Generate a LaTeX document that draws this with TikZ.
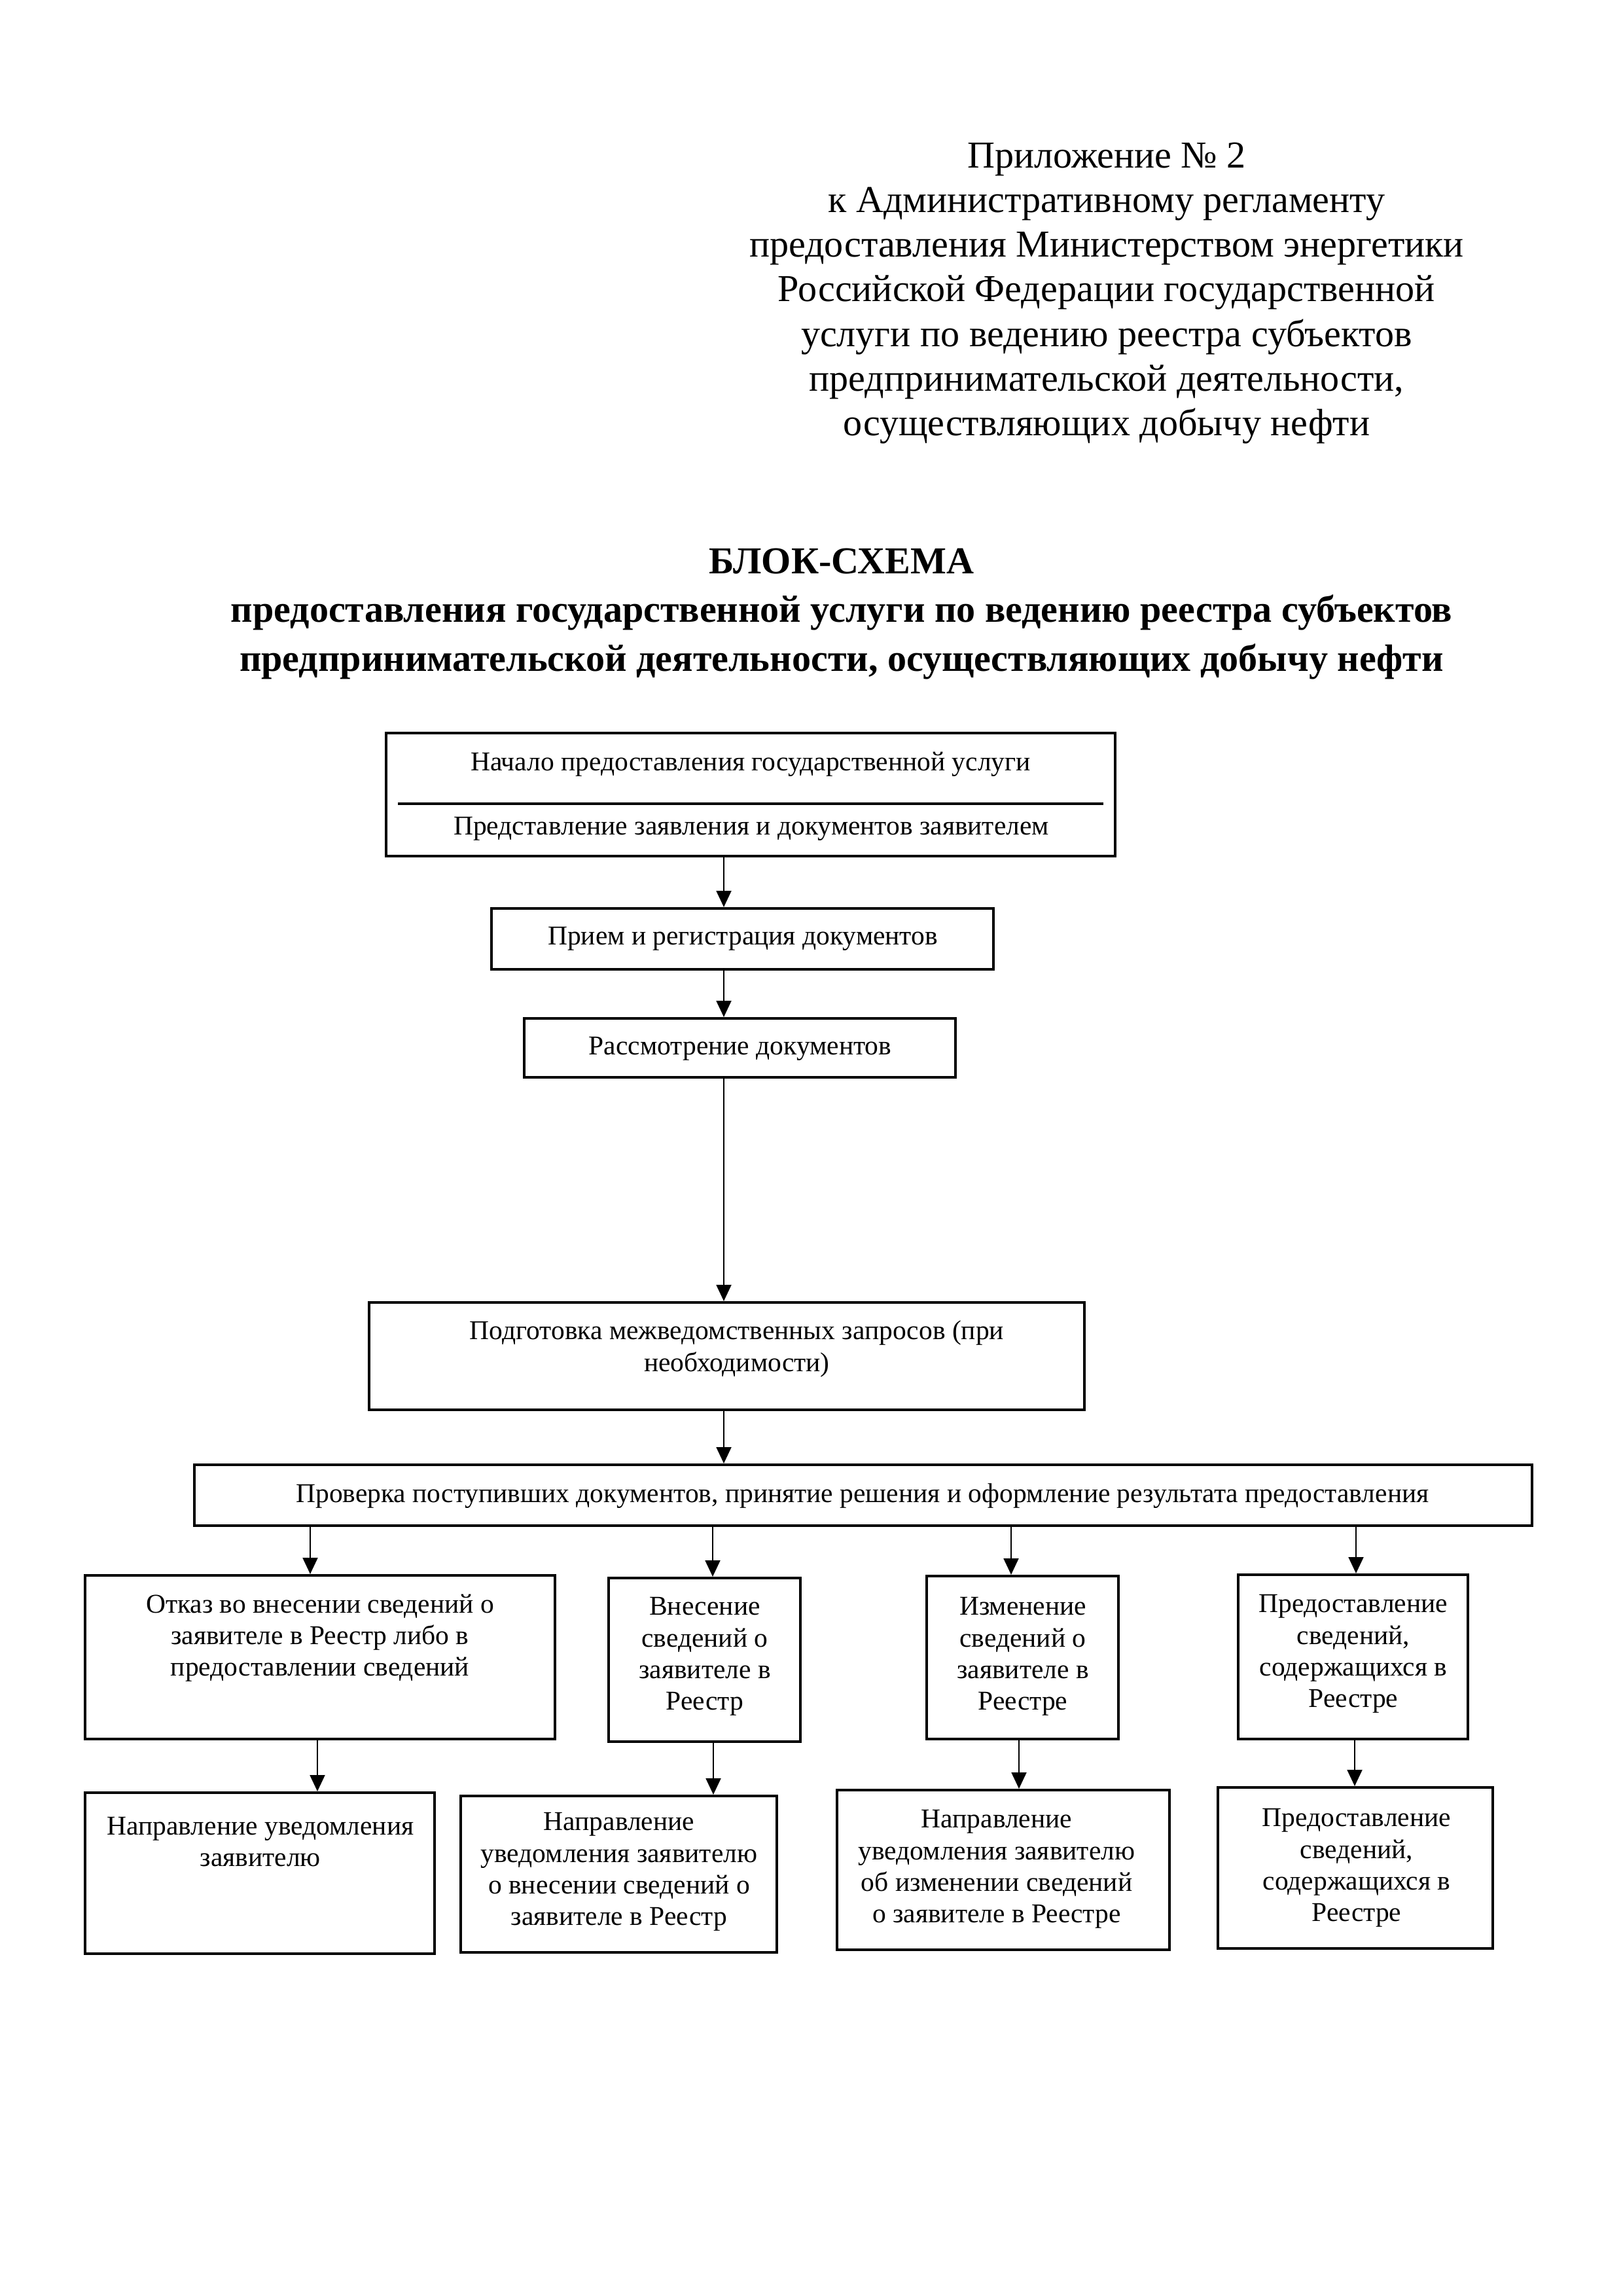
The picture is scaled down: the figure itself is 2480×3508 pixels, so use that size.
\documentclass[tikz,border=0pt]{standalone}
\usepackage{fontspec}
\setmainfont{Liberation Serif}
\usetikzlibrary{arrows.meta,fit}
\begin{document}
\begin{tikzpicture}[x=0.2409pt,y=-0.2409pt,
  box/.style={draw, line width=1pt, inner sep=0pt},
  txt/.style={align=center, font=\fontsize{10}{11.6}\selectfont, inner sep=0pt},
  arr/.style={line width=0.6pt, -{Triangle[length=6pt,width=5.5pt]}},
  head/.style={align=center, font=\fontsize{14}{16.4}\selectfont, inner sep=0pt},
  ttl/.style={align=center, font=\fontsize{14}{17.9}\selectfont\bfseries, inner sep=0pt}]
\useasboundingbox (0,0) rectangle (2480,3508);

% header
\node[head] (hdr) at (1691,448) {Приложение № 2\\к Административному регламенту\\предоставления Министерством энергетики\\Российской Федерации государственной\\услуги по ведению реестра субъектов\\предпринимательской деятельности,\\осуществляющих добычу нефти};
\node[ttl] (title) at (1286,938) {БЛОК-СХЕМА\\предоставления государственной услуги по ведению реестра субъектов\\предпринимательской деятельности, осуществляющих добычу нефти};

% boxes
\node[box, fit={(590,1120) (1704,1308)}] (b1) {};
\node[box, fit={(751,1388) (1518,1481)}] (b2) {};
\node[box, fit={(801,1556) (1460,1646)}] (b3) {};
\node[box, fit={(564,1990) (1657,2154)}] (b4) {};
\node[box, fit={(297,2238) (2341,2331)}] (b5) {};
\node[box, fit={(130,2407) (848,2657)}] (b6) {};
\node[box, fit={(930,2411) (1223,2661)}] (b7) {};
\node[box, fit={(1416,2408) (1709,2657)}] (b8) {};
\node[box, fit={(1892,2406) (2243,2657)}] (b9) {};
\node[box, fit={(130,2739) (664,2985)}] (b10) {};
\node[box, fit={(704,2744) (1187,2983)}] (b11) {};
\node[box, fit={(1279,2735) (1787,2979)}] (b12) {};
\node[box, fit={(1861,2731) (2281,2977)}] (b13) {};

% divider in first box
\draw[line width=1pt] (608,1228) -- (1686,1228);

% texts
\node[txt] (t1a) at (1147,1168) {Начало предоставления государственной услуги};
\node[txt] (t1b) at (1148,1266) {Представление заявления и документов заявителем};
\node[txt] (t2) at (1135,1434) {Прием и регистрация документов};
\node[txt] (t3) at (1131,1602) {Рассмотрение документов};
\node[txt] (t4) at (1126,2061) {Подготовка межведомственных запросов (при\\необходимости)};
\node[txt] (t5) at (1318,2286) {Проверка поступивших документов, принятие решения и оформление результата предоставления};
\node[txt] (t6) at (489,2503) {Отказ во внесении сведений о\\заявителе в Реестр либо в\\предоставлении сведений};
\node[txt] (t7) at (1077,2531) {Внесение\\сведений о\\заявителе в\\Реестр};
\node[txt] (t8) at (1563,2531) {Изменение\\сведений о\\заявителе в\\Реестре};
\node[txt] (t9) at (2068,2527) {Предоставление\\сведений,\\содержащихся в\\Реестре};
\node[txt] (t10) at (398,2814) {Направление уведомления\\заявителю};
\node[txt] (t11) at (946,2860) {Направление\\уведомления заявителю\\о внесении сведений о\\заявителе в Реестр};
\node[txt] (t12) at (1523,2856) {Направление\\уведомления заявителю\\об изменении сведений\\о заявителе в Реестре};
\node[txt] (t13) at (2073,2854) {Предоставление\\сведений,\\содержащихся в\\Реестре};

% connector columns
\coordinate (x0) at (1106,0);
\coordinate (xa) at (474,0);
\coordinate (xb) at (1089,0);
\coordinate (xc) at (1545,0);
\coordinate (xd) at (2072,0);
\coordinate (ya) at (485,0);
\coordinate (yb) at (1090,0);
\coordinate (yc) at (1557,0);
\coordinate (yd) at (2070,0);

\draw[arr] (b1.south -| x0) -- (b2.north -| x0);
\draw[arr] (b2.south -| x0) -- (b3.north -| x0);
\draw[arr] (b3.south -| x0) -- (b4.north -| x0);
\draw[arr] (b4.south -| x0) -- (b5.north -| x0);

\draw[arr] (b5.south -| xa) -- (b6.north -| xa);
\draw[arr] (b5.south -| xb) -- (b7.north -| xb);
\draw[arr] (b5.south -| xc) -- (b8.north -| xc);
\draw[arr] (b5.south -| xd) -- (b9.north -| xd);

\draw[arr] (b6.south -| ya) -- (b10.north -| ya);
\draw[arr] (b7.south -| yb) -- (b11.north -| yb);
\draw[arr] (b8.south -| yc) -- (b12.north -| yc);
\draw[arr] (b9.south -| yd) -- (b13.north -| yd);
\end{tikzpicture}
\end{document}
